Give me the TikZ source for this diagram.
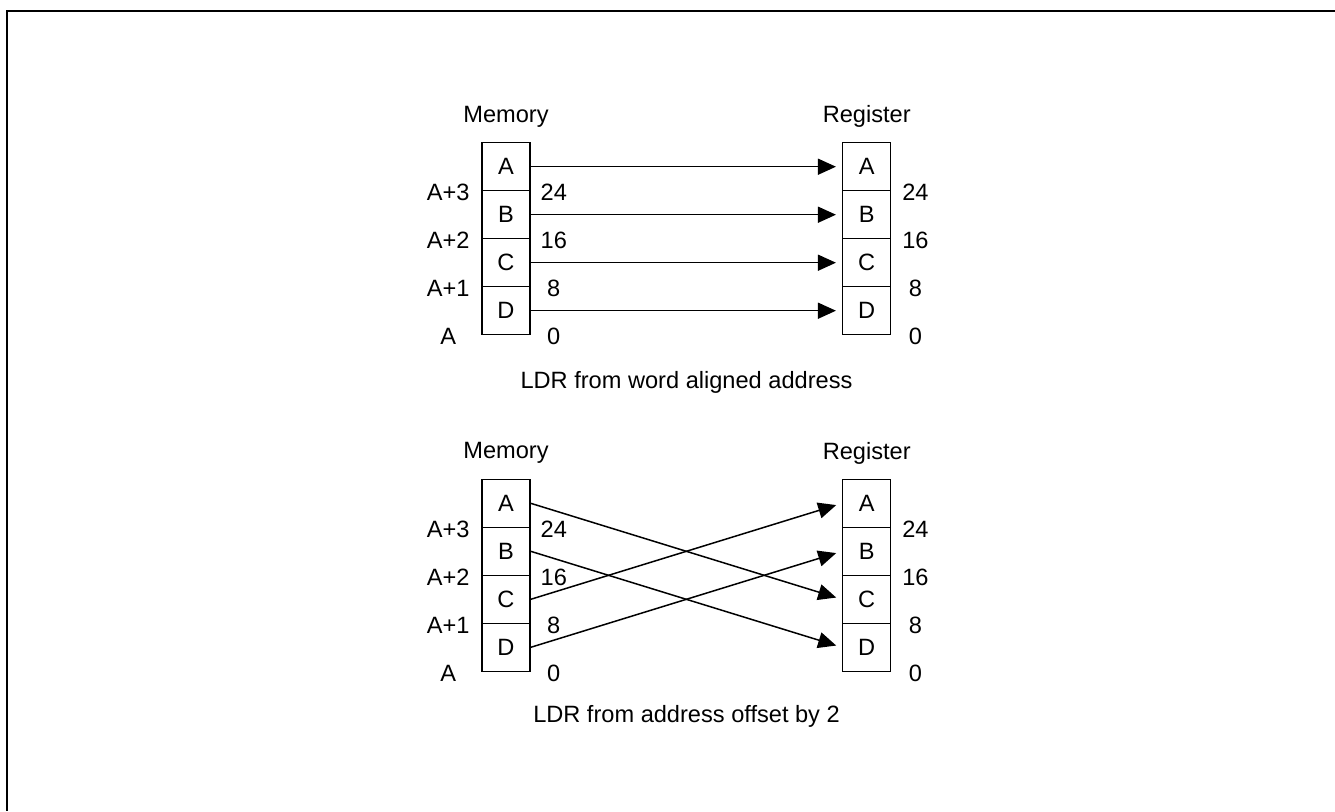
\documentclass[tikz,border=0pt]{standalone}
\usepackage{fontspec}
\setmainfont{Liberation Sans}
\usetikzlibrary{positioning,arrows.meta}
\tikzset{
cell/.style={rectangle, minimum width=24pt, minimum height=24pt, inner sep=0pt, text centered, draw=black, line width=0.75pt, font=\fontsize{11.8pt}{13pt}\selectfont},
lbl/.style={inner sep=0pt, font=\fontsize{11.8pt}{13pt}\selectfont},
arrow/.style={line width=0.75pt, -{Triangle[length=9pt,width=8pt]}, shorten >=3pt},
frame/.style={line width=1pt}}

\begin{document}
\begin{tikzpicture}[x=0.5pt, y=-0.5pt, node distance=24pt]
\useasboundingbox (0,0) rectangle (1335,811);
\draw [frame] (1335,11) -| (7,811);

% word aligned
\node (mA) [cell] at (506,166.7) {A};
\node (mB) [cell, below of=mA] {B};
\node (mC) [cell, below of=mB] {C};
\node (mD) [cell, below of=mC] {D};
\node (rA) [cell] at (866.7,166.7) {A};
\node (rB) [cell, below of=rA] {B};
\node (rC) [cell, below of=rB] {C};
\node (rD) [cell, below of=rC] {D};
\node (mem) [lbl, above of=mA, node distance=25pt] {Memory};
\node (reg) [lbl, above of=rA, node distance=25pt] {Register};
\node (aM3) [lbl] at ([xshift=-16.5pt, yshift=-0.5pt]mA.south west) {A+3};
\node (aM2) [lbl] at ([xshift=-16.5pt, yshift=-0.5pt]mB.south west) {A+2};
\node (aM1) [lbl] at ([xshift=-16.5pt, yshift=-0.5pt]mC.south west) {A+1};
\node (aM0) [lbl] at ([xshift=-16.5pt, yshift=-0.5pt]mD.south west) {A};
\node (bM24) [lbl] at ([xshift=11.5pt, yshift=-0.5pt]mA.south east) {24};
\node (bM16) [lbl] at ([xshift=11.5pt, yshift=-0.5pt]mB.south east) {16};
\node (bM8) [lbl] at ([xshift=11.5pt, yshift=-0.5pt]mC.south east) {8};
\node (bM0) [lbl] at ([xshift=11.5pt, yshift=-0.5pt]mD.south east) {0};
\node (bR24) [lbl] at ([xshift=12pt, yshift=-0.5pt]rA.south east) {24};
\node (bR16) [lbl] at ([xshift=12pt, yshift=-0.5pt]rB.south east) {16};
\node (bR8) [lbl] at ([xshift=12pt, yshift=-0.5pt]rC.south east) {8};
\node (bR0) [lbl] at ([xshift=12pt, yshift=-0.5pt]rD.south east) {0};
\node (cap) [lbl] at (686.5,382.2) {LDR from word aligned address};

\draw [arrow] (mA.east) -- (rA.west);
\draw [arrow] (mB.east) -- (rB.west);
\draw [arrow] (mC.east) -- (rC.west);
\draw [arrow] (mD.east) -- (rD.west);

% offset by 2
\node (mA2) [cell] at (506,503.3) {A};
\node (mB2) [cell, below of=mA2] {B};
\node (mC2) [cell, below of=mB2] {C};
\node (mD2) [cell, below of=mC2] {D};
\node (rA2) [cell] at (866.7,503.3) {A};
\node (rB2) [cell, below of=rA2] {B};
\node (rC2) [cell, below of=rB2] {C};
\node (rD2) [cell, below of=rC2] {D};
\node (mem2) [lbl, above of=mA2, node distance=25pt] {Memory};
\node (reg2) [lbl, above of=rA2, node distance=25pt] {Register};
\node (aM3b) [lbl] at ([xshift=-16.5pt, yshift=-0.5pt]mA2.south west) {A+3};
\node (aM2b) [lbl] at ([xshift=-16.5pt, yshift=-0.5pt]mB2.south west) {A+2};
\node (aM1b) [lbl] at ([xshift=-16.5pt, yshift=-0.5pt]mC2.south west) {A+1};
\node (aM0b) [lbl] at ([xshift=-16.5pt, yshift=-0.5pt]mD2.south west) {A};
\node (bM24b) [lbl] at ([xshift=11.5pt, yshift=-0.5pt]mA2.south east) {24};
\node (bM16b) [lbl] at ([xshift=11.5pt, yshift=-0.5pt]mB2.south east) {16};
\node (bM8b) [lbl] at ([xshift=11.5pt, yshift=-0.5pt]mC2.south east) {8};
\node (bM0b) [lbl] at ([xshift=11.5pt, yshift=-0.5pt]mD2.south east) {0};
\node (bR24b) [lbl] at ([xshift=12pt, yshift=-0.5pt]rA2.south east) {24};
\node (bR16b) [lbl] at ([xshift=12pt, yshift=-0.5pt]rB2.south east) {16};
\node (bR8b) [lbl] at ([xshift=12pt, yshift=-0.5pt]rC2.south east) {8};
\node (bR0b) [lbl] at ([xshift=12pt, yshift=-0.5pt]rD2.south east) {0};
\node (cap2) [lbl] at (686.5,716.2) {LDR from address offset by 2};

\draw [arrow] (mA2.east) -- (rC2.west);
\draw [arrow] (mB2.east) -- (rD2.west);
\draw [arrow] (mC2.east) -- (rA2.west);
\draw [arrow] (mD2.east) -- (rB2.west);
\end{tikzpicture}
\end{document}
